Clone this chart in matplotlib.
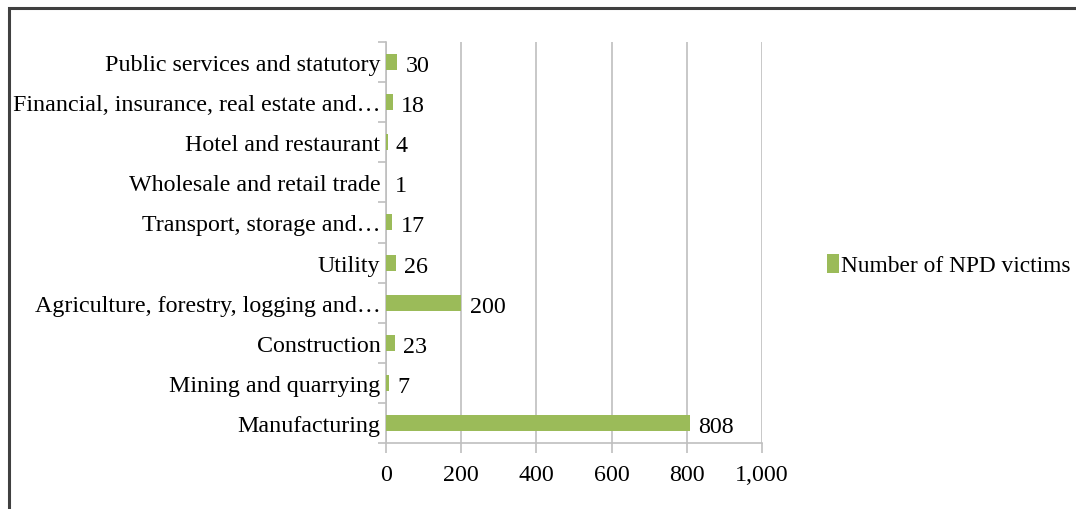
import matplotlib.pyplot as plt
from matplotlib.patches import Rectangle
from matplotlib.ticker import FuncFormatter

plt.rcParams['font.family'] = ['Liberation Serif', 'DejaVu Serif']

# data (bottom to top)
categories = ['Manufacturing', 'Mining and quarrying', 'Construction',
              'Agriculture, forestry, logging and\u2026', 'Utility',
              'Transport, storage and\u2026', 'Wholesale and retail trade',
              'Hotel and restaurant', 'Financial, insurance, real estate and\u2026',
              'Public services and statutory']
victims = [808, 7, 23, 200, 26, 17, 1, 4, 18, 30]
series_name = 'Number of NPD victims'

bar_color = '#9BBB59'
grid_color = '#BFBFBF'
fs = 17.3

fig = plt.figure(figsize=(10.76, 5.10), dpi=100)
ax = fig.add_axes([386 / 1076, 1 - 444 / 510, (762 - 386) / 1076, (444 - 43) / 510])

ypos = list(range(len(categories)))
ax.barh(ypos, victims, height=0.4, color=bar_color, label=series_name, zorder=3)

for y, v in zip(ypos, victims):
    ax.annotate(str(v), (v, y), xytext=(6, -2.5), textcoords='offset points',
                va='center', ha='left', fontsize=fs)

ax.set_xlim(0, 1000)
ax.set_ylim(-0.5, len(categories) - 0.5)
ax.set_xticks([0, 200, 400, 600, 800, 1000])
ax.xaxis.set_major_formatter(FuncFormatter(lambda v, p: f'{int(v):,}'))
ax.set_yticks(ypos)
ax.set_yticklabels(categories)
ax.set_yticks([i - 0.5 for i in range(len(categories) + 1)], minor=True)

ax.tick_params(axis='y', which='major', length=0, pad=4, labelsize=fs)
ax.tick_params(axis='y', which='minor', length=6, color=grid_color, width=1.2)
ax.tick_params(axis='x', which='major', length=7, color=grid_color, width=1.2,
               labelsize=fs, pad=8)

ax.xaxis.grid(True, color=grid_color, linewidth=1.2, zorder=0)
for s in ['top', 'right']:
    ax.spines[s].set_visible(False)
for s in ['left', 'bottom']:
    ax.spines[s].set_color(grid_color)
    ax.spines[s].set_linewidth(1.2)

ax.legend(loc='center left', bbox_to_anchor=(806 / 1076, 1 - 266 / 510),
          bbox_transform=fig.transFigure, frameon=False, fontsize=16.8,
          handlelength=0.5, handleheight=0.9, handletextpad=0.1)

# outer frame
fig.patches.append(Rectangle((9 / 1076, -0.1), 1.2, 1 - 9 / 510 + 0.1,
                             transform=fig.transFigure, fill=False,
                             edgecolor='#404040', linewidth=2.2))

fig.savefig('out.png', dpi=100)
